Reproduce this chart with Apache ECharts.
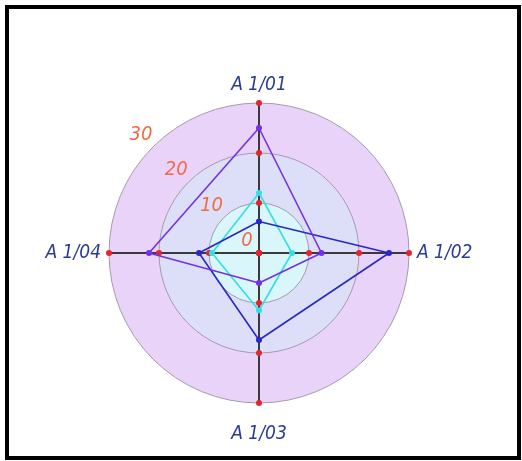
<!DOCTYPE html>
<html>
<head>
<meta charset="utf-8">
<script src="https://cdn.jsdelivr.net/npm/echarts@6/dist/echarts.min.js"></script>
<style>
  html, body { margin: 0; padding: 0; background: #fff; }
  #frame {
    position: absolute; left: 5px; top: 5px;
    width: 516px; height: 455px;
    box-sizing: border-box; border: 4px solid #000;
  }
  #chart { position: absolute; left: 0; top: 0; width: 522px; height: 461px; }
</style>
</head>
<body>
<div id="frame"></div>
<div id="chart"></div>
<script>
// data
const categories = ['A 1/01', 'A 1/02', 'A 1/03', 'A 1/04'];
const purpleValues = [25, 12.5, 6, 22];
const blueValues = [6.3, 26, 17.4, 12];
const cyanValues = [12, 6.6, 11.5, 9.4];
const tickValues = [0, 10, 20, 30];
const tickLabels = ['0', '10', '20', '30'];

// radar runs counter-clockwise from the top -> 01, 04, 03, 02
const order = [0, 3, 2, 1];
const pick = arr => order.map(i => arr[i]);

const cx = 259, cy = 253, R = 150;
const maxVal = 30;
const fontFam = '"Liberation Sans Narrow", "DejaVu Sans Condensed", sans-serif';

const chart = echarts.init(document.getElementById('chart'));

// red dots where the rings cross the axes
const tickSeries = tickValues.map(v => ({
  type: 'radar',
  silent: true,
  symbol: 'circle',
  symbolSize: 6,
  itemStyle: { color: '#e4262c' },
  lineStyle: { opacity: 0 },
  z: 3,
  data: [{ value: categories.map(() => v) }]
}));

function lineSeries(values, color) {
  return {
    type: 'radar',
    symbol: 'circle',
    symbolSize: 6,
    itemStyle: { color: color },
    lineStyle: { color: color, width: 1.6 },
    z: 4,
    data: [{ value: pick(values) }]
  };
}

// ring labels along the upper-left diagonal
const ringLabels = tickValues.map((v, i) => {
  const d = v / maxVal * R + 17;
  return {
    type: 'text',
    x: cx - d * Math.SQRT1_2,
    y: cy - d * Math.SQRT1_2,
    z: 10,
    style: {
      text: tickLabels[i],
      fill: '#f26a44',
      font: 'italic 20px ' + fontFam,
      align: 'center',
      verticalAlign: 'middle'
    }
  };
});

chart.setOption({
  animation: false,
  radar: {
    center: [cx, cy],
    radius: R,
    shape: 'circle',
    splitNumber: 3,
    indicator: pick(categories).map(name => ({ name: name, min: 0, max: maxVal })),
    nameGap: 8,
    axisName: {
      color: '#2b3a94',
      fontStyle: 'italic',
      fontSize: 19,
      fontFamily: fontFam,
      // the bottom name sits further from the ring
      formatter: name => name === categories[2] ? '{low|' + name + '}' : name,
      rich: {
        low: {
          padding: [14, 0, 0, 0],
          color: '#2b3a94',
          fontStyle: 'italic',
          fontSize: 19,
          fontFamily: fontFam
        }
      }
    },
    axisLine: { lineStyle: { color: '#3a3a3a', width: 2 } },
    splitLine: { lineStyle: { color: '#a29aac', width: 1 } },
    splitArea: {
      areaStyle: { color: ['#d9f7fa', '#dddff9', '#e9d3f8'] }
    }
  },
  graphic: ringLabels,
  series: [
    lineSeries(cyanValues, '#35dde6'),
    lineSeries(blueValues, '#2828c8'),
    lineSeries(purpleValues, '#7430e6')
  ].concat(tickSeries)
});
</script>
</body>
</html>
